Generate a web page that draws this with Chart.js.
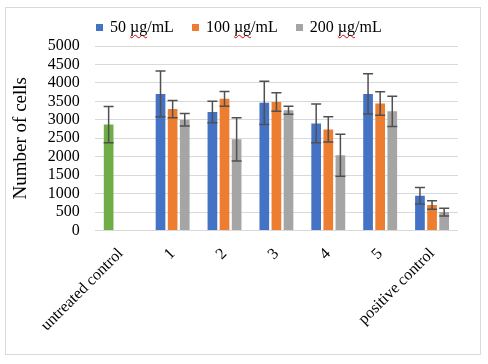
<!DOCTYPE html>
<html>
<head>
<meta charset="utf-8">
<script src="https://cdn.jsdelivr.net/npm/chart.js@4"></script>
<style>
  body { margin: 0; background: #fff; }
  #frame { position: absolute; left: 5px; top: 7px; width: 474px; height: 346px; border: 1px solid #d9d9d9; }
  #legend { position: absolute; top: 10px; left: 90px; display: flex; font-family: "Liberation Serif", serif; font-size: 16px; color: #000; }
  #legend .item { display: flex; align-items: center; margin-right: 18px; white-space: nowrap; }
  #legend i { display: inline-block; width: 7px; height: 7px; margin-right: 7px; }
  .sq { text-decoration: underline wavy #e00000; text-decoration-thickness: 1px; text-decoration-skip-ink: none; text-underline-offset: 2px; }
</style>
</head>
<body>
<div id="frame">
  <canvas id="myChart" width="474" height="346"></canvas>
  <div id="legend"></div>
</div>
<script>
// categories and values
var chartLabels = ['untreated control', '1', '2', '3', '4', '5', 'positive control'];
var seriesNames = ['50 µg/mL', '100 µg/mL', '200 µg/mL'];

var values50 = [2870, 3700, 3210, 3460, 2900, 3700, 940];
var errors50 = [490, 620, 290, 585, 525, 545, 225];
var values100 = [null, 3290, 3570, 3480, 2740, 3440, 690];
var errors100 = [null, 235, 200, 250, 345, 320, 115];
var values200 = [null, 3000, 2470, 3260, 2040, 3230, 500];
var errors200 = [null, 170, 585, 110, 570, 410, 105];

var yTicks = [0, 500, 1000, 1500, 2000, 2500, 3000, 3500, 4000, 4500, 5000];

var colours = ['#4472C4', '#ED7D31', '#A5A5A5'];
var controlColour = '#70AD47';

// first bar of the 50 series is the untreated control, drawn green
var colours50 = chartLabels.map((l, i) => i == 0 ? controlColour : colours[0]);

var allErrors = [errors50, errors100, errors200];

// legend as html so the units keep their squiggle
var legendHtml = '';
for (i in seriesNames) {
    var parts = seriesNames[i].split(' ');
    var unit = parts[1].replace('µg', '<span class="sq">µg</span>');
    legendHtml += '<span class="item"><i style="background:' + colours[i] + '"></i><span>' + parts[0] + '&nbsp;' + unit + '</span></span>';
}
document.getElementById('legend').innerHTML = legendHtml;

const errorBars = {
    id: 'errorBars',
    afterDatasetsDraw(chart) {
        const ctx = chart.ctx;
        const y = chart.scales.y;
        ctx.save();
        ctx.strokeStyle = '#505050';
        ctx.lineWidth = 1.5;
        chart.data.datasets.forEach((ds, d) => {
            const meta = chart.getDatasetMeta(d);
            meta.data.forEach((bar, j) => {
                const v = ds.data[j];
                const e = allErrors[d][j];
                if (v == null || e == null) return;
                const top = y.getPixelForValue(v + e);
                const bot = y.getPixelForValue(v - e);
                ctx.beginPath();
                ctx.moveTo(bar.x, top); ctx.lineTo(bar.x, bot);
                ctx.moveTo(bar.x - 5, top); ctx.lineTo(bar.x + 5, top);
                ctx.moveTo(bar.x - 5, bot); ctx.lineTo(bar.x + 5, bot);
                ctx.stroke();
            });
        });
        ctx.restore();
    }
};

const data = {
    labels: chartLabels,
    datasets: [
        { label: seriesNames[0], data: values50, backgroundColor: colours50 },
        { label: seriesNames[1], data: values100, backgroundColor: colours[1] },
        { label: seriesNames[2], data: values200, backgroundColor: colours[2] }
    ]
};

const config = {
    type: 'bar',
    data: data,
    options: {
        responsive: false,
        animation: false,
        datasets: { bar: { barPercentage: 0.8, categoryPercentage: 0.7 } },
        layout: { padding: { top: 38, right: 22, bottom: 13, left: 0 } },
        plugins: { legend: { display: false }, tooltip: { enabled: false } },
        scales: {
            x: {
                grid: { display: false },
                border: { display: false },
                ticks: {
                    color: '#000', minRotation: 45, maxRotation: 45, autoSkip: false, padding: 6,
                    font: { family: 'Liberation Serif', size: 16 }
                }
            },
            y: {
                min: yTicks[0], max: yTicks[yTicks.length - 1],
                grid: { color: '#d9d9d9', lineWidth: 1, drawTicks: false },
                border: { display: false },
                ticks: {
                    color: '#000', padding: 15, autoSkip: false,
                    stepSize: yTicks[1] - yTicks[0],
                    callback: (v) => String(v),
                    font: { family: 'Liberation Serif', size: 16 }
                },
                title: {
                    display: true, text: 'Number of cells', color: '#000', padding: { top: 4, bottom: 0 },
                    font: { family: 'Liberation Serif', size: 19 }
                }
            }
        }
    },
    plugins: [errorBars]
};

const myChart = new Chart(document.getElementById('myChart'), config);
</script>
</body>
</html>
